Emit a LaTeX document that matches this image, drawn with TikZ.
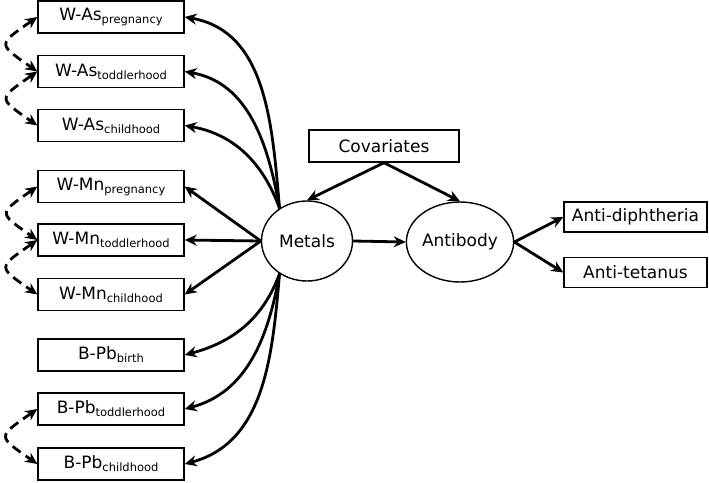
\documentclass[tikz,border=0pt]{standalone}
\usepackage{fontspec}
\setmainfont{DejaVu Sans}
\usetikzlibrary{positioning, arrows.meta, shapes.geometric}
\newcommand{\tsub}[1]{\raisebox{-3pt}{\fontsize{11.5}{12}\selectfont #1}}

\begin{document}
\begin{tikzpicture}[x=1pt, y=-1pt, >={Stealth[length=12pt,width=11pt]},
      every node/.style={font=\fontsize{17}{20}\selectfont},
      var/.style={draw, line width=1.4pt, minimum width=146pt, minimum height=32pt, inner sep=0pt},
      latent/.style={draw, ellipse, line width=1.4pt, minimum width=91pt, minimum height=80pt, inner sep=0pt},
      path/.style={->, line width=2.8pt},
      cov/.style={<->, line width=2.8pt, dash pattern=on 10pt off 6pt}]
    \useasboundingbox (0,0) rectangle (709,482);

    % exposures
    \node[var] (wasp) at (111,17) {W-As\tsub{pregnancy}};
    \node[var] (wast) at (111,71.5) {W-As\tsub{toddlerhood}};
    \node[var] (wasc) at (111,125.5) {W-As\tsub{childhood}};
    \node[var] (wmnp) at (111,186.5) {W-Mn\tsub{pregnancy}};
    \node[var] (wmnt) at (111,240) {W-Mn\tsub{toddlerhood}};
    \node[var] (wmnc) at (111,294.5) {W-Mn\tsub{childhood}};
    \node[var] (pbb) at (111,355) {B-Pb\tsub{birth}};
    \node[var] (pbt) at (111,409) {B-Pb\tsub{toddlerhood}};
    \node[var] (pbc) at (111,464) {B-Pb\tsub{childhood}};

    % latent and outcomes
    \node[latent] (metals) at (307,241) {Metals};
    \node[latent] (antibody) at (460,242) {Antibody};
    \node[var, minimum width=150pt] (covar) at (384,146) {Covariates};
    \node[var, minimum width=143pt, minimum height=30pt] (diph) at (635.5,217) {Anti-diphtheria};
    \node[var, minimum width=143pt, minimum height=30pt] (tet) at (635.5,272.5) {Anti-tetanus};

    \draw[path] (covar.south) -- (metals.north);
    \draw[path] (covar.south) -- (antibody.north);
    \draw[path] (metals.east) -- (antibody.west);
    \draw[path] (antibody.east) -- (diph.west);
    \draw[path] (antibody.east) -- (tet.west);

    \draw[path] (metals.130) to[out=95,in=-10] (wasp.east);
    \draw[path] (metals.130) to[out=100,in=-10] (wast.east);
    \draw[path] (metals.130) to[out=110,in=-10] (wasc.east);
    \draw[path] (metals.west) -- (wmnp.east);
    \draw[path] (metals.west) -- (wmnt.east);
    \draw[path] (metals.west) -- (wmnc.east);
    \draw[path] (metals.230) to[out=-110,in=15] (pbb.east);
    \draw[path] (metals.230) to[out=-100,in=15] (pbt.east);
    \draw[path] (metals.230) to[out=-95,in=15] (pbc.east);

    % residual covariances
    \draw[cov] (wasp.west) to[out=215,in=145,looseness=2.3] (wast.west);
    \draw[cov] (wast.west) to[out=215,in=145,looseness=2.3] (wasc.west);
    \draw[cov] (wmnp.west) to[out=215,in=145,looseness=2.3] (wmnt.west);
    \draw[cov] (wmnt.west) to[out=215,in=145,looseness=2.3] (wmnc.west);
    \draw[cov] (pbt.west) to[out=215,in=145,looseness=2.3] (pbc.west);
  \end{tikzpicture}
\end{document}
